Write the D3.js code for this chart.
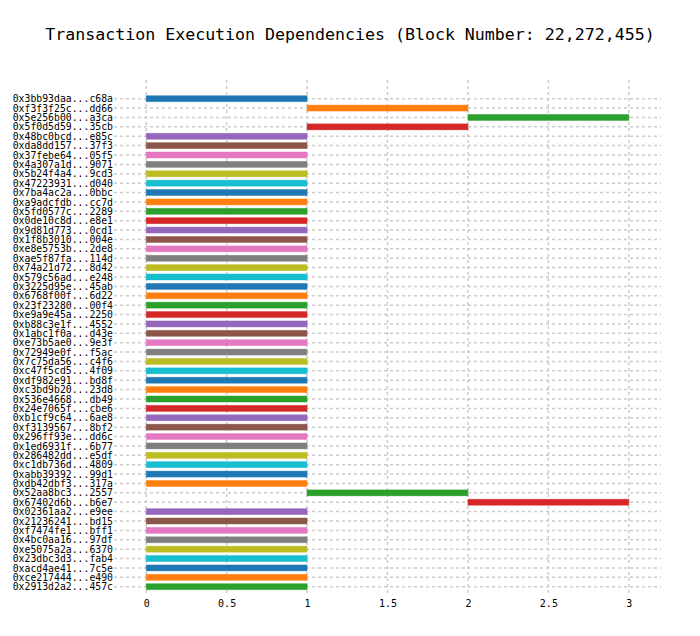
<!DOCTYPE html>
<html>
<head>
<meta charset="utf-8">
<script src="https://cdn.jsdelivr.net/npm/d3@7/dist/d3.min.js"></script>
<style>
  body { margin: 0; background: #fff; }
  svg { display: block; }
  text { font-family: "DejaVu Sans Mono", monospace; fill: #000; }
</style>
</head>
<body>
<svg id="chart" width="700" height="636"></svg>
<script>
const titleText = "Transaction Execution Dependencies (Block Number: 22,272,455)";

const txHashes = [
  "0x3bb93daa...c68a","0xf3f3f25c...dd66","0x5e256b00...a3ca","0x5f0d5d59...35cb",
  "0x48bc0bcd...e85c","0xda8dd157...37f3","0x37febe64...05f5","0x4a307a1d...9071",
  "0x5b24f4a4...9cd3","0x47223931...d040","0x7ba4ac2a...0bbc","0xa9adcfdb...cc7d",
  "0x5fd0577c...2289","0x0de10c8d...e8e1","0x9d81d773...0cd1","0x1f8b3010...004e",
  "0xe8e5753b...2de8","0xae5f87fa...114d","0x74a21d72...8d42","0x579c56ad...e248",
  "0x3225d95e...45ab","0x6768f00f...6d22","0x23f23280...00f4","0xe9a9e45a...2250",
  "0xb88c3e1f...4552","0x1abc1f0a...d43e","0xe73b5ae0...9e3f","0x72949e0f...f5ac",
  "0x7c75da56...c4f6","0xc47f5cd5...4f09","0xdf982e91...bd8f","0xc3bd9b20...23d8",
  "0x536e4668...db49","0x24e7065f...cbe6","0xb1cf9c64...6ae8","0xf3139567...8bf2",
  "0x296ff93e...dd6c","0x1ed6931f...6b77","0x286482dd...e5df","0xc1db736d...4809",
  "0xabb39392...99d1","0xdb42dbf3...317a","0x52aa8bc3...2557","0x67402d6b...b6e7",
  "0x02361aa2...e9ee","0x21236241...bd15","0xf7474fe1...bff1","0x4bc0aa16...97df",
  "0xe5075a2a...6370","0x23dbc3d3...fab4","0xacd4ae41...7c5e","0xce217444...e490",
  "0x2913d2a2...457c"
];

const startTimes = [
  0,1,2,1, 0,0,0,0, 0,0,0,0, 0,0,0,0, 0,0,0,0, 0,0,0,0, 0,0,0,0, 0,0,0,0,
  0,0,0,0, 0,0,0,0, 0,0,1,2, 0,0,0,0, 0,0,0,0, 0
];
const endTimes = [
  1,2,3,2, 1,1,1,1, 1,1,1,1, 1,1,1,1, 1,1,1,1, 1,1,1,1, 1,1,1,1, 1,1,1,1,
  1,1,1,1, 1,1,1,1, 1,1,2,3, 1,1,1,1, 1,1,1,1, 1
];

const xTicks = [0, 0.5, 1, 1.5, 2, 2.5, 3];
const xTickLabels = ["0", "0.5", "1", "1.5", "2", "2.5", "3"];
const palette = ["#1f77b4","#ff7f0e","#2ca02c","#d62728","#9467bd","#8c564b","#e377c2","#7f7f7f","#bcbd22","#17becf"];

const svg = d3.select("#chart");

const x = d3.scaleLinear().domain([-0.2, 3.2]).range([114, 661]);
const y = d3.scalePoint().domain(txHashes).range([98.7, 586.7]);
const gridTop = 80, gridBottom = 594;
const barH = 6;

// title
svg.append("text")
  .attr("x", 350).attr("y", 40)
  .attr("text-anchor", "middle")
  .style("font-size", "16.6px")
  .text(titleText);

// horizontal grid
svg.append("g").selectAll("line")
  .data(txHashes).join("line")
  .attr("x1", x(-0.2)).attr("x2", x(3.2))
  .attr("y1", d => y(d)).attr("y2", d => y(d))
  .attr("stroke", "#cccccc").attr("stroke-width", 1.5)
  .attr("stroke-dasharray", "3,3");

// vertical grid
svg.append("g").selectAll("line")
  .data(xTicks).join("line")
  .attr("x1", d => x(d)).attr("x2", d => x(d))
  .attr("y1", gridTop).attr("y2", gridBottom)
  .attr("stroke", "#cccccc").attr("stroke-width", 1.5)
  .attr("stroke-dasharray", "3,3");

// bars
svg.append("g").selectAll("rect")
  .data(txHashes).join("rect")
  .attr("x", (d, i) => x(startTimes[i]))
  .attr("width", (d, i) => x(endTimes[i]) - x(startTimes[i]))
  .attr("y", d => y(d) - barH / 2)
  .attr("height", barH)
  .attr("fill", (d, i) => palette[i % 10])
  .attr("stroke", (d, i) => palette[i % 10])
  .attr("stroke-opacity", 0.5)
  .attr("stroke-width", 0.8);

// y labels
const yAxis = d3.axisLeft(y).tickSize(0).tickPadding(0);
const gy = svg.append("g").attr("transform", "translate(113,0)").call(yAxis);
gy.select(".domain").remove();
gy.selectAll("text")
  .style("font-family", "'DejaVu Sans Mono', monospace")
  .style("font-size", "9.8px");

// x axis labels
const xAxis = d3.axisBottom(x).tickValues(xTicks).tickFormat((d, i) => xTickLabels[i]).tickSize(0).tickPadding(0);
const gx = svg.append("g").attr("transform", "translate(0,600)").call(xAxis);
gx.select(".domain").remove();
gx.selectAll("text")
  .style("font-family", "'DejaVu Sans Mono', monospace")
  .style("font-size", "10px");
</script>
</body>
</html>
